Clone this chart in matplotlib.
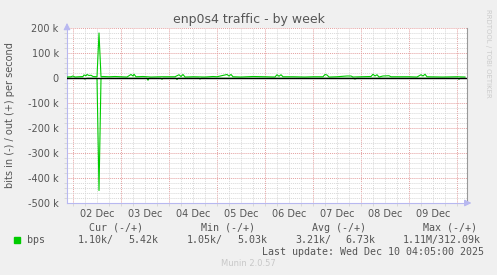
"""Munin style weekly traffic graph for enp0s4"""

import matplotlib
matplotlib.use('Agg')
import matplotlib.pyplot as plt

# hours counted from 02 Dec 00:00
out_hours = [-3, -1, 0, 1, 3, 5, 5.5, 6.5, 7, 8, 9, 10, 12, 13, 14, 15, 18, 21,
             24, 27, 29, 30, 30.5, 31.5, 35, 39, 44, 48, 51, 53, 54, 55, 56, 60,
             66, 70, 72, 77, 78, 79, 80, 84, 90, 96, 101, 102, 103, 104, 105,
             110, 116, 120, 125, 126, 127, 128, 132, 137, 139, 140, 144, 149,
             150, 151, 152, 153, 155, 158, 159, 168, 172, 174, 175, 176, 177,
             185, 192, 196]
out_kbps = [4, 5, 8, 4, 5, 6, 12, 9, 14, 10, 11, 6, 5, 180, 5, 6, 5, 6,
            5, 4, 14, 8, 15, 5, 6, 4, 5, 5, 5, 13, 6, 14, 4, 5,
            4, 6, 5, 14, 8, 14, 5, 4, 6, 5, 4, 13, 7, 13, 5,
            5, 4, 5, 5, 14, 12, 4, 5, 8, 8, 4, 5, 6,
            15, 8, 13, 4, 8, 9, 5, 5, 4, 13, 8, 15, 5,
            4, 5, 4]

in_hours = [-3, 5, 6, 7, 12, 13, 14, 20, 30, 37, 37.5, 38, 44, 44.5, 45, 51.5,
            52, 52.5, 63, 63.5, 64, 90, 120, 140, 141, 142, 160, 192.5, 193,
            193.5, 196]
in_kbps = [-1, -1, -4, -1, -1, -450, -1, -1, -1, -1, -9, -1, -1, -5, -1, -1,
           -6, -1, -1, -4, -1, -1, -1, -1, -4, -1, -1, -1, -5, -1, -1]

day_labels = ['02 Dec', '03 Dec', '04 Dec', '05 Dec', '06 Dec', '07 Dec',
              '08 Dec', '09 Dec']
y_ticks = [200000, 100000, 0, -100000, -200000, -300000, -400000, -500000]
y_labels = ['200 k', '100 k', '0', '-100 k', '-200 k', '-300 k', '-400 k',
            '-500 k']

W, H = 497, 275
TXT = '#555555'
RED = '#e4a0a0'
GRAY = '#d8d8d8'
AXIS = '#b8b8f0'


def px_text(x, y, s, **kw):
    """places text using pixel coordinates of the image"""
    fig.text(x / W, 1 - y / H, s, **kw)


fig = plt.figure(figsize=(W / 100, H / 100), dpi=100, facecolor='#f0f0f0')
ax = fig.add_axes([67 / W, 1 - 203 / H, 400 / W, 175 / H], facecolor='white')
ax.set_xlim(-3, 197)
ax.set_ylim(-500000, 200000)

# grid, red every day / 100k, grey every 6 h / 20k
for h in range(0, 197, 6):
    col = RED if h % 24 == 0 else GRAY
    ax.axvline(h, color=col, lw=0.7, ls=(0, (1, 1)), zorder=1)
for v in range(-480000, 200001, 20000):
    col = RED if v % 100000 == 0 else GRAY
    ax.axhline(v, color=col, lw=0.7, ls=(0, (1, 1)), zorder=1)

ax.plot(out_hours, [v * 1000 for v in out_kbps], color='#00cc00', lw=0.8,
        zorder=3)
ax.plot(in_hours, [v * 1000 for v in in_kbps], color='#00cc00', lw=0.8,
        zorder=3)
ax.axhline(0, color='black', lw=1.0, zorder=4)

ax.set_xticks([12 + 24 * i for i in range(len(day_labels))], day_labels)
ax.set_yticks(y_ticks, y_labels)
ax.tick_params(axis='both', which='major', length=0, labelsize=7,
               labelcolor=TXT)
ax.tick_params(axis='x', which='major', pad=4)
ax.tick_params(axis='y', which='major', pad=6)

# small tick marks along the axes
ax.set_xticks(list(range(0, 197, 6)), minor=True)
ax.set_yticks(list(range(-500000, 200001, 20000)), minor=True)
ax.tick_params(which='minor', length=2, width=0.7, color=GRAY)
for t, h in zip(ax.xaxis.get_minor_ticks(), range(0, 197, 6)):
    if h % 24 == 0:
        t.tick1line.set_color(RED)
for t, v in zip(ax.yaxis.get_minor_ticks(), range(-500000, 200001, 20000)):
    if v % 100000 == 0:
        t.tick1line.set_color(RED)
ax.yaxis.set_ticks_position('left')
ax.xaxis.set_ticks_position('bottom')

ax.spines['top'].set_visible(False)
ax.spines['right'].set_color('#999999')
ax.spines['right'].set_linewidth(0.8)
ax.spines['left'].set_color(AXIS)
ax.spines['bottom'].set_color(AXIS)
ax.spines['left'].set_linewidth(0.8)
ax.spines['bottom'].set_linewidth(0.8)

ax.annotate('', xy=(0, 1.045), xytext=(0, 0.99), xycoords='axes fraction',
            arrowprops=dict(arrowstyle='-|>', color=AXIS, lw=0.8,
                            mutation_scale=10), annotation_clip=False)
ax.annotate('', xy=(1.018, 0), xytext=(0.995, 0), xycoords='axes fraction',
            arrowprops=dict(arrowstyle='-|>', color=AXIS, lw=0.8,
                            mutation_scale=10), annotation_clip=False)

ax.set_ylabel('bits in (-) / out (+) per second', fontsize=7, color=TXT)
ax.yaxis.set_label_coords(-(67 - 15) / 400, 0.5)

px_text(248.5, 19, 'enp0s4 traffic - by week', fontsize=9, color=TXT,
        ha='center', va='center')
px_text(488, 53, 'RRDTOOL / TOBI OETIKER', fontsize=5, color='#cccccc',
        ha='center', va='center', rotation=270)

mono = dict(family='DejaVu Sans Mono', fontsize=7.2, color=TXT, va='center')
px_text(89, 228, 'Cur (-/+)', **mono)
px_text(201, 228, 'Min (-/+)', **mono)
px_text(312, 228, 'Avg (-/+)', **mono)
px_text(423, 228, 'Max (-/+)', **mono)

fig.patches.append(plt.Rectangle((14 / W, 1 - 243 / H), 6 / W, 6 / H,
                                 transform=fig.transFigure,
                                 color='#00cc00'))
px_text(27, 240, 'bps', **mono)
px_text(78, 240, '1.10k/', **mono)
px_text(128, 240, '5.42k', **mono)
px_text(187, 240, '1.05k/', **mono)
px_text(237, 240, '5.03k', **mono)
px_text(295, 240, '3.21k/', **mono)
px_text(345, 240, '6.73k', **mono)
px_text(403, 240, '1.11M/312.09k', **mono)
px_text(262, 252, 'Last update: Wed Dec 10 04:05:00 2025', **mono)
px_text(248, 264, 'Munin 2.0.57', fontsize=6, color='#c8c8c8',
        ha='center', va='center')

fig.savefig('out.png', dpi=100, facecolor=fig.get_facecolor())
